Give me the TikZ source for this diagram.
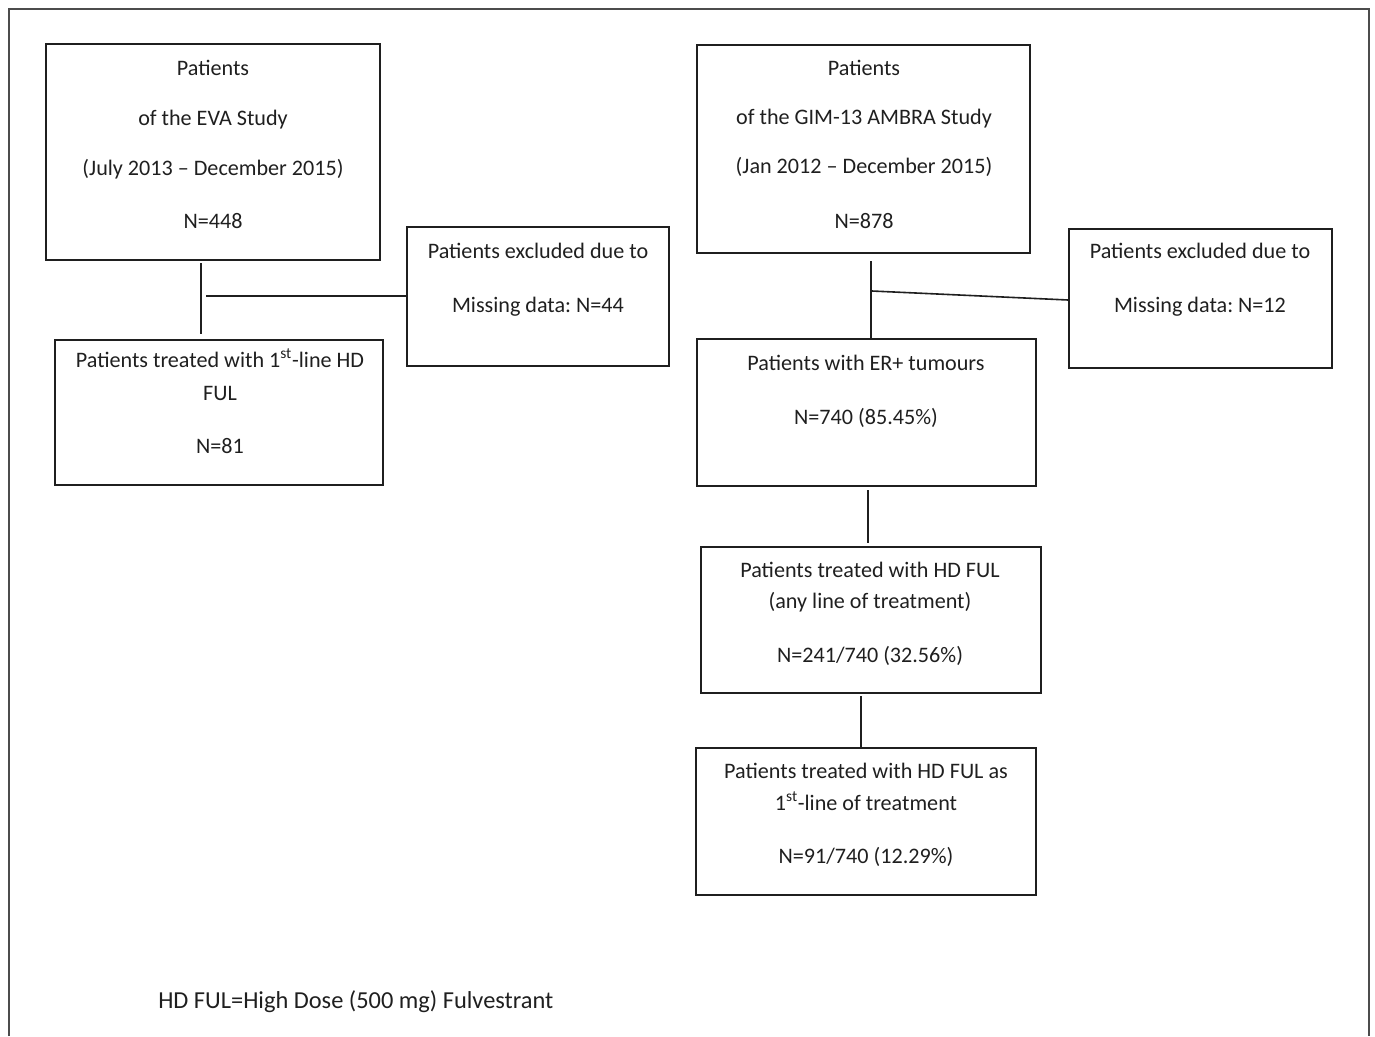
\documentclass[tikz,border=0pt]{standalone}
\usepackage{fontspec}
\setmainfont{Carlito}
\frenchspacing
\usetikzlibrary{calc,fit}
\begin{document}
\begin{tikzpicture}[x=0.75pt,y=-0.75pt,
  box/.style={draw=black!88, line width=1.2pt, rectangle, inner sep=0pt},
  txt/.style={align=center, inner sep=0pt, anchor=base, text=black!88,
              font=\fontsize{16.6}{24}\selectfont},
  conn/.style={draw=black!88, line width=1.2pt},
  frame/.style={draw=black!70, line width=0.8pt}]
\useasboundingbox (0,0) rectangle (1375,1036);
% outer frame (no bottom edge visible)
\draw[frame] (9,1036) -- (9,9) -- (1369,9) -- (1369,1036);

% boxes
\node[box, fit={(46,44) (380,260)}]   (eva)  {};
\node[box, fit={(407,227) (669,366)}] (excL) {};
\node[box, fit={(55,340) (383,485)}]  (hdL)  {};
\node[box, fit={(697,45) (1030,253)}] (gim)  {};
\node[box, fit={(1069,229) (1332,368)}] (excR) {};
\node[box, fit={(697,339) (1036,486)}] (er)  {};
\node[box, fit={(701,547) (1041,693)}] (any) {};
\node[box, fit={(696,748) (1036,895)}] (first) {};

% texts (anchor = baseline of the last line)
\node[txt] (evaT) at (213,228) {Patients\\[13.5pt]of the EVA Study\\[13.5pt](July 2013 – December 2015)\\[15.75pt]N=448};
\node[txt] (gimT) at (864,228) {Patients\\[12.75pt]of the GIM-13 AMBRA Study\\[12.75pt](Jan 2012 – December 2015)\\[17.25pt]N=878};
\node[txt] (excLT) at (538,312) {Patients excluded due to\\[16.5pt]Missing data: N=44};
\node[txt] (excRT) at (1200,312) {Patients excluded due to\\[16.5pt]Missing data: N=12};
\node[txt] (hdLT) at (220,453) {Patients treated with 1\textsuperscript{st}-line HD\\[0.75pt]FUL\\[15.75pt]N=81};
\node[txt] (erT) at (866,424) {Patients with ER+ tumours\\[16.5pt]N=740 (85.45\%)};
\node[txt] (anyT) at (870,662) {Patients treated with HD FUL\\[-0.75pt](any line of treatment)\\[16.5pt]N=241/740 (32.56\%)};
\node[txt] (firstT) at (866,863) {Patients treated with HD FUL as\\1\textsuperscript{st}-line of treatment\\[15.75pt]N=91/740 (12.29\%)};
\node[txt, anchor=base west, font=\fontsize{18.3}{22}\selectfont] (foot) at (158,1008) {HD FUL=High Dose (500 mg) Fulvestrant};

% connectors
\coordinate (l1) at (201,263);
\coordinate (l2) at (201,334);
\coordinate (l3) at (206,296);
\draw[conn] (l1) -- (l2);
\draw[conn] (l3) -- (l3 -| excL.west);

\coordinate (r1) at (871,261);
\coordinate (r3) at (872,291);
\draw[conn] (r1) -- (r1 |- er.north);
\draw[conn] (r3) -- ($(excR.west)+(0,1.5)$);

\coordinate (m1) at (868,490);
\coordinate (m2) at (868,543);
\draw[conn] (m1) -- (m2);

\coordinate (n1) at (861,696);
\draw[conn] (n1) -- (n1 |- first.north);
\end{tikzpicture}
\end{document}
